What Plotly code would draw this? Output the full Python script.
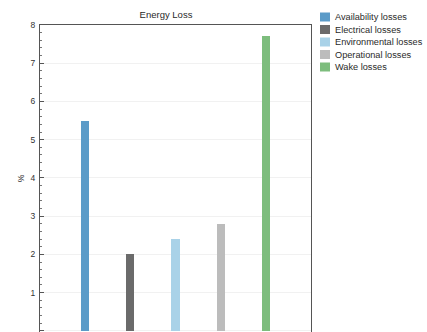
import plotly.graph_objects as go

# Loss categories and their values (%)
categories = ["Availability losses", "Electrical losses", "Environmental losses",
              "Operational losses", "Wake losses"]
values = [5.5, 2.0, 2.4, 2.8, 7.7]
colors = ["#5b9bc8", "#6b6b6b", "#a9d2e8", "#bcbcbc", "#7dbd7d"]
positions = [1, 2, 3, 4, 5]

W, H = 427, 332
ML, MR, MT, MB = 40, 116, 25, 0
PW, PH = W - ML - MR, H - MT - MB

fig = go.Figure()
for name, v, c, p in zip(categories, values, colors, positions):
    fig.add_trace(go.Bar(
        x=[p], y=[v], name=name, width=0.18, showlegend=False,
        marker=dict(color=c, line=dict(width=0)),
    ))


def px_x(px):
    return (px - ML) / PW


def px_y(py):
    return (H - MB - py) / PH


# Compact legend to the right of the plot: swatch + label per category
row0, row_h = 17.0, 12.5
for i, (name, c) in enumerate(zip(categories, colors)):
    cy = row0 + i * row_h
    fig.add_shape(type="rect", xref="paper", yref="paper",
                  x0=px_x(320), x1=px_x(330), y0=px_y(cy + 4.5), y1=px_y(cy - 4.5),
                  fillcolor=c, line=dict(width=0))
    fig.add_annotation(xref="paper", yref="paper", x=px_x(333), y=px_y(cy),
                       text=name, showarrow=False, xanchor="left",
                       yanchor="middle", font=dict(size=9.2, color="#2a2a2a"))

font = "Liberation Sans, Arial, sans-serif"
fig.update_layout(
    width=W, height=H,
    margin=dict(l=ML, r=MR, t=MT, b=MB),
    paper_bgcolor="white", plot_bgcolor="white",
    font=dict(family=font, size=8, color="#333"),
    title=dict(text="Energy Loss", x=166 / W,
               xanchor="center", y=1 - 15 / H, yanchor="middle",
               font=dict(size=9.5, color="#2a2a2a")),
    showlegend=False,
    bargap=0,
)
fig.update_xaxes(range=[0, 6], showticklabels=False, ticks="",
                 showgrid=False, showline=True, linecolor="#555",
                 linewidth=1, mirror=True, zeroline=False)
fig.update_yaxes(range=[-0.03, 8.0], dtick=1, tick0=0,
                 ticks="inside", ticklen=4, tickcolor="#555",
                 minor=dict(dtick=0.2, ticks="inside", ticklen=2,
                            tickcolor="#777", showgrid=False),
                 showgrid=True, gridcolor="#f1f1f1",
                 showline=True, linecolor="#555", linewidth=1, mirror=True,
                 zeroline=False, tickfont=dict(size=8.5, color="#333"),
                 ticklabelstandoff=2,
                 title=dict(text="%", standoff=4, font=dict(size=8.5)))

fig.write_html("out.html")
